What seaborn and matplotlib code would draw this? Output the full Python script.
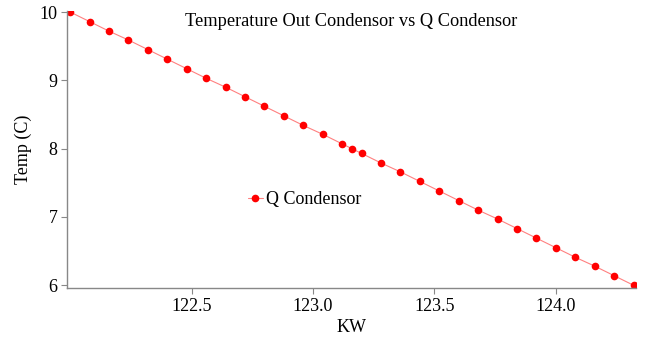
import matplotlib
matplotlib.use("Agg")
import matplotlib.pyplot as plt
import seaborn as sns
import pandas as pd

q_kw = [122.00, 122.08, 122.16, 122.24, 122.32, 122.40, 122.48, 122.56, 122.64, 122.72,
        122.80, 122.88, 122.96, 123.04, 123.12, 123.16, 123.20, 123.28, 123.36, 123.44,
        123.52, 123.60, 123.68, 123.76, 123.84, 123.92, 124.00, 124.08, 124.16, 124.24, 124.32]
temp_c = [10.00, 9.86, 9.72, 9.59, 9.45, 9.31, 9.17, 9.03, 8.90, 8.76,
          8.62, 8.48, 8.34, 8.21, 8.07, 8.00, 7.93, 7.79, 7.66, 7.52,
          7.38, 7.24, 7.10, 6.97, 6.83, 6.69, 6.55, 6.41, 6.28, 6.14, 6.00]
series_name = "Q Condensor"
x_ticks = [122.5, 123.0, 123.5, 124.0]
y_ticks = [6, 7, 8, 9, 10]

df = pd.DataFrame({"KW": q_kw, "Temp": temp_c, "series": series_name})

sns.set_theme(style="white")
plt.rcParams['font.family'] = ['Liberation Serif', 'DejaVu Serif']
plt.rcParams['text.color'] = 'black'
plt.rcParams['axes.labelcolor'] = 'black'
plt.rcParams['xtick.color'] = 'black'
plt.rcParams['ytick.color'] = 'black'

fig = plt.figure(figsize=(6.46, 3.38), dpi=100)
ax = fig.add_axes([67/646, 1 - 288/338, (636-67)/646, (288-11)/338])

sns.lineplot(data=df, x="KW", y="Temp", hue="series", palette=["red"],
             marker="o", markersize=5.5, markeredgewidth=0, linewidth=0.8,
             ax=ax, sort=False)
for ln in ax.lines:
    ln.set_color("#ff8080")
    ln.set_markerfacecolor("red")
    ln.set_markeredgecolor("red")

ax.set_xlim(121.987, 124.33)
ax.set_ylim(5.96, 10.015)
ax.set_xticks(x_ticks)
ax.set_xticklabels([f"{v:.1f}" for v in x_ticks])
ax.set_yticks(y_ticks)
ax.tick_params(axis="both", labelsize=13, length=4, width=0.8, color="#888888",
               labelcolor="black", direction="out", bottom=True, left=True, pad=3)
for side in ["top", "right"]:
    ax.spines[side].set_visible(False)
for side in ["left", "bottom"]:
    ax.spines[side].set_color("#888888")
    ax.spines[side].set_linewidth(1.0)

ax.set_xlabel("KW", fontsize=13, labelpad=3)
ax.set_ylabel("Temp (C)", fontsize=13, labelpad=5)
ax.set_title("Temperature Out Condensor vs Q Condensor", fontsize=13.2, y=0.915)

leg = ax.legend(loc="center left", bbox_to_anchor=(0.29, 0.318), frameon=False,
                fontsize=13, handlelength=0.8, handletextpad=0.2)
for h in leg.get_lines():
    h.set_color("#ff8080")
    h.set_markerfacecolor("red")
    h.set_markeredgecolor("red")

fig.savefig("out.png", dpi=100)
